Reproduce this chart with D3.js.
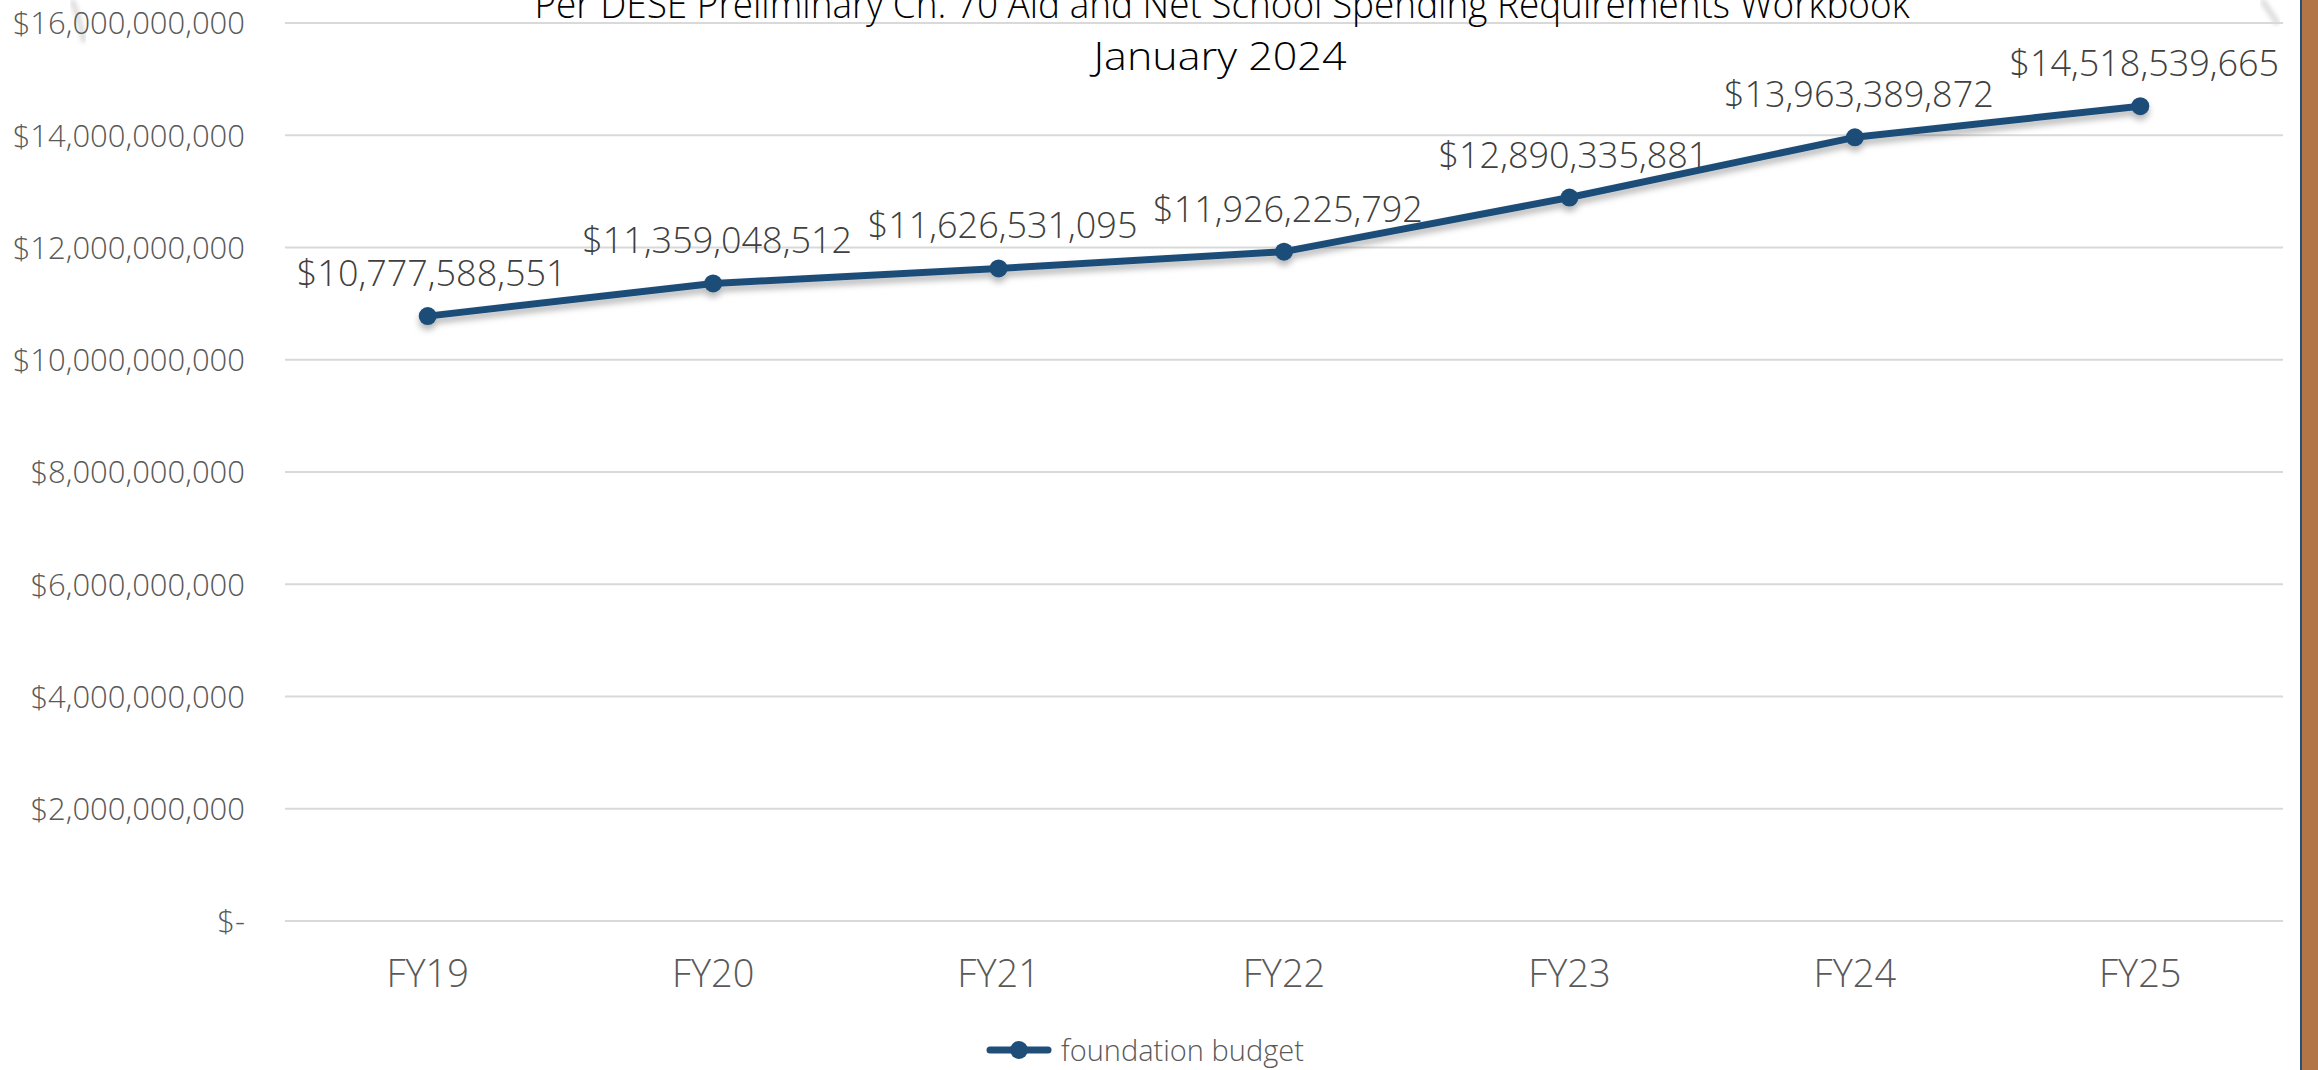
<!DOCTYPE html>
<html>
<head>
<meta charset="utf-8">
<script src="https://cdn.jsdelivr.net/npm/d3@7"></script>
<style>
  html, body { margin: 0; padding: 0; background: #fff; overflow: hidden; }
  svg { display: block; }
</style>
</head>
<body>
<div id="chart"></div>
<script>
// data
var years = ['FY19', 'FY20', 'FY21', 'FY22', 'FY23', 'FY24', 'FY25']
var foundation_budget = [10777588551, 11359048512, 11626531095, 11926225792, 12890335881, 13963389872, 14518539665]
var y_ticks = [0, 2e9, 4e9, 6e9, 8e9, 10e9, 12e9, 14e9, 16e9]
var title_lines = ['Per DESE Preliminary Ch. 70 Aid and Net School Spending Requirements Workbook', 'January 2024']
var series_name = 'foundation budget'

var w = 2318
var h = 1070
var blue = '#1f4e79'
var font = "'Open Sans', 'Noto Sans', sans-serif"

var svg = d3.select('#chart').append('svg')
  .attr('width', w)
  .attr('height', h)
  .attr('viewBox', [0, 0, w, h].join(' '))

var defs = svg.append('defs')
var shadow = defs.append('filter').attr('id', 'shadow')
  .attr('x', '-5%').attr('y', '-50%').attr('width', '110%').attr('height', '200%')
shadow.append('feDropShadow')
  .attr('dx', 0).attr('dy', 5).attr('stdDeviation', 3)
  .attr('flood-color', '#000').attr('flood-opacity', 0.28)
var blur = defs.append('filter').attr('id', 'blur')
blur.append('feGaussianBlur').attr('stdDeviation', 2)

// page edge on the right
svg.append('rect').attr('x', 2302).attr('y', 0).attr('width', 16).attr('height', h).attr('fill', '#b27646')
svg.append('line').attr('x1', 2301).attr('x2', 2301).attr('y1', 0).attr('y2', h)
  .attr('stroke', '#2a4f7a').attr('stroke-width', 2)

// faint page-curl shadows at the top corners
svg.append('path').attr('d', 'M72,0 Q80,20 84,42')
  .attr('fill', 'none').attr('stroke', '#c8c8c8').attr('stroke-width', 6)
  .attr('stroke-opacity', 0.6).attr('filter', 'url(#blur)')
svg.append('path').attr('d', 'M2262,0 Q2270,12 2278,24')
  .attr('fill', 'none').attr('stroke', '#c8c8c8').attr('stroke-width', 6)
  .attr('stroke-opacity', 0.6).attr('filter', 'url(#blur)')

var plot_left = 285
var plot_right = 2283
var plot_top = 23
var plot_bottom = 921

var x = d3.scaleBand().domain(years).range([plot_left, plot_right]).padding(0)
var y = d3.scaleLinear().domain([0, 16e9]).range([plot_bottom, plot_top])
var cx = function (d) { return x(d) + x.bandwidth() / 2 }

// gridlines
svg.append('g').selectAll('line').data(y_ticks).enter().append('line')
  .attr('x1', plot_left).attr('x2', plot_right)
  .attr('y1', function (d) { return y(d) }).attr('y2', function (d) { return y(d) })
  .attr('stroke', '#d9d9d9').attr('stroke-width', 2)

// y axis labels
var fmt = d3.format(',')
var yAxis = d3.axisLeft(y).tickValues(y_ticks).tickSize(0).tickPadding(0)
  .tickFormat(function (d) { return d === 0 ? '$-' : '$' + fmt(d) })
var gy = svg.append('g').attr('transform', 'translate(245,0)').call(yAxis)
gy.select('.domain').remove()
gy.selectAll('text')
  .style('font-family', font).style('font-weight', 300)
  .style('font-size', '31px').attr('fill', '#595959')
  .attr('dy', '0.35em')

// x axis labels
var xAxis = d3.axisBottom(x).tickSize(0).tickPadding(0)
var gx = svg.append('g').attr('transform', 'translate(0,' + plot_bottom + ')').call(xAxis)
gx.select('.domain').remove()
gx.selectAll('text')
  .style('font-family', font).style('font-weight', 300)
  .style('font-size', '38px').attr('fill', '#595959')
  .attr('y', 66).attr('dy', 0)

// title (top line is clipped by the page edge)
svg.append('text').text(title_lines[0])
  .attr('x', 1222).attr('y', 18)
  .attr('text-anchor', 'middle')
  .attr('textLength', 1375).attr('lengthAdjust', 'spacingAndGlyphs')
  .style('font-family', font).style('font-weight', 300)
  .style('font-size', '39px').attr('fill', '#000')
svg.append('text').text(title_lines[1])
  .attr('x', 1220).attr('y', 70)
  .attr('text-anchor', 'middle')
  .attr('textLength', 253).attr('lengthAdjust', 'spacingAndGlyphs')
  .style('font-family', font).style('font-weight', 300)
  .style('font-size', '39px').attr('fill', '#000')

// line + markers
var pts = years.map(function (d, i) { return { key: d, value: foundation_budget[i] } })
var line = d3.line().x(function (d) { return cx(d.key) }).y(function (d) { return y(d.value) })
var gl = svg.append('g').attr('filter', 'url(#shadow)')
gl.append('path').datum(pts).attr('d', line)
  .attr('fill', 'none').attr('stroke', blue).attr('stroke-width', 7)
  .attr('stroke-linejoin', 'round').attr('stroke-linecap', 'round')
gl.selectAll('circle').data(pts).enter().append('circle')
  .attr('cx', function (d) { return cx(d.key) })
  .attr('cy', function (d) { return y(d.value) })
  .attr('r', 9).attr('fill', blue)

// data labels
svg.append('g').selectAll('text').data(pts).enter().append('text')
  .text(function (d) { return '$' + fmt(d.value) })
  .attr('x', function (d) { return cx(d.key) + 4 })
  .attr('y', function (d) { return y(d.value) - 30 })
  .attr('text-anchor', 'middle')
  .style('font-family', font).style('font-weight', 300)
  .style('font-size', '36px').attr('fill', '#404040')

// legend
var lg = svg.append('g').attr('transform', 'translate(990,1050)')
lg.append('line').attr('x1', 0).attr('x2', 58).attr('y1', 0).attr('y2', 0)
  .attr('stroke', blue).attr('stroke-width', 7).attr('stroke-linecap', 'round')
lg.append('circle').attr('cx', 29).attr('cy', 0).attr('r', 9).attr('fill', blue)
lg.append('text').text(series_name)
  .attr('x', 71).attr('y', 11)
  .style('font-family', font).style('font-weight', 300)
  .style('font-size', '29px').attr('fill', '#595959')
</script>
</body>
</html>
